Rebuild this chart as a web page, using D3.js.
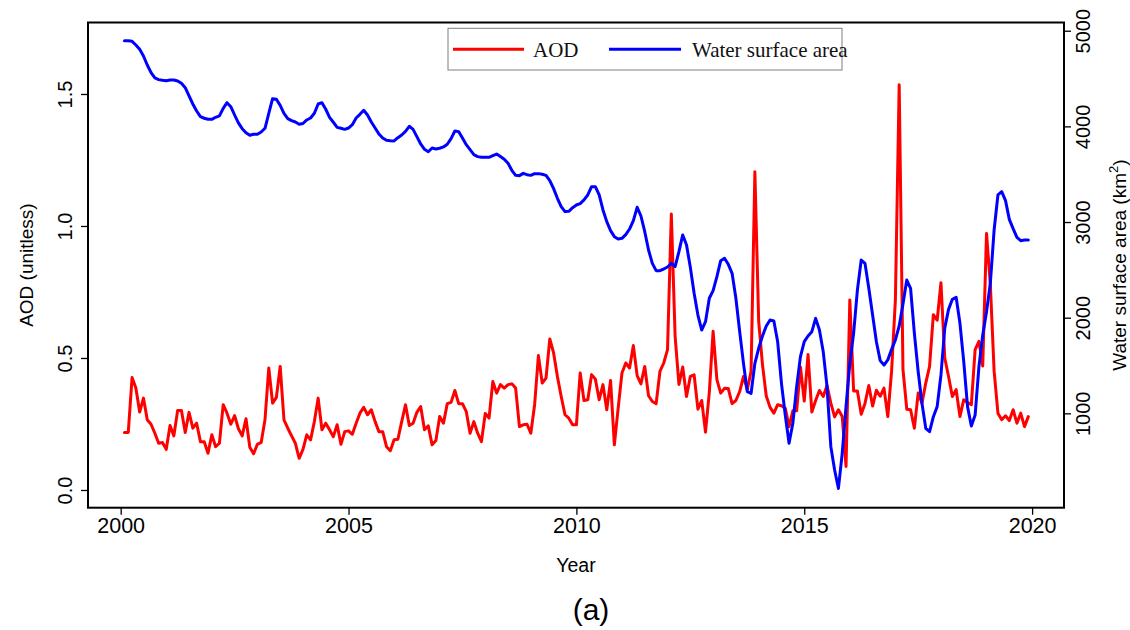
<!DOCTYPE html>
<html>
<head>
<meta charset="utf-8">
<script src="https://cdn.jsdelivr.net/npm/d3@7/dist/d3.min.js"></script>
<style>
  html, body { margin: 0; padding: 0; background: #fff; }
  svg { display: block; }
</style>
</head>
<body>
<svg id="chart" width="1130" height="630"></svg>
<script>
// Monthly series, Feb 2000 to Dec 2019
const startYear = 2000;
const aod = [
  0.218,0.218,0.426,0.386,0.295,0.348,0.266,0.249,0.215,0.177,0.180,0.154,
  0.244,0.205,0.301,0.301,0.218,0.294,0.234,0.253,0.183,0.183,0.139,0.209,
  0.164,0.177,0.323,0.291,0.249,0.282,0.232,0.205,0.270,0.162,0.137,0.173,
  0.180,0.266,0.462,0.329,0.351,0.468,0.266,0.234,0.205,0.177,0.120,0.154,
  0.209,0.190,0.259,0.348,0.228,0.253,0.228,0.202,0.247,0.173,0.221,0.224,
  0.211,0.253,0.291,0.313,0.285,0.304,0.259,0.221,0.221,0.164,0.149,0.190,
  0.192,0.259,0.323,0.244,0.253,0.294,0.316,0.228,0.243,0.171,0.187,0.278,
  0.253,0.327,0.332,0.377,0.327,0.327,0.297,0.215,0.259,0.215,0.183,0.290,
  0.272,0.411,0.367,0.399,0.386,0.399,0.402,0.386,0.240,0.247,0.249,0.215,
  0.323,0.509,0.405,0.424,0.572,0.519,0.430,0.354,0.285,0.272,0.247,0.247,
  0.443,0.339,0.342,0.437,0.420,0.342,0.399,0.304,0.415,0.171,0.310,0.443,
  0.481,0.462,0.547,0.433,0.402,0.468,0.357,0.335,0.327,0.449,0.481,0.532,
  1.045,0.582,0.400,0.466,0.354,0.430,0.436,0.306,0.339,0.219,0.370,0.601,
  0.418,0.367,0.385,0.384,0.327,0.339,0.373,0.430,0.380,0.450,1.205,0.640,
  0.475,0.356,0.313,0.291,0.323,0.319,0.310,0.240,0.300,0.300,0.466,0.337,
  0.513,0.295,0.339,0.377,0.354,0.396,0.329,0.277,0.304,0.278,0.089,0.720,
  0.375,0.375,0.287,0.328,0.396,0.318,0.378,0.355,0.386,0.278,0.450,0.720,
  1.535,0.456,0.306,0.304,0.234,0.367,0.329,0.405,0.468,0.664,0.643,0.785,
  0.500,0.430,0.354,0.380,0.278,0.342,0.331,0.323,0.532,0.563,0.470,0.972,
  0.780,0.450,0.291,0.266,0.281,0.263,0.304,0.253,0.291,0.240,0.278
];
const area = [
  4896,4896,4889,4851,4806,4736,4642,4562,4506,4489,4482,4478,
  4485,4485,4475,4450,4405,4318,4234,4161,4102,4085,4074,4074,
  4095,4109,4189,4248,4206,4119,4036,3976,3934,3907,3917,3917,
  3941,3980,4137,4290,4283,4220,4137,4081,4060,4046,4022,4030,
  4067,4088,4137,4234,4248,4179,4095,4043,3990,3980,3969,3983,
  4018,4088,4126,4168,4119,4046,3983,3921,3879,3855,3851,3848,
  3882,3910,3948,4001,3969,3893,3816,3760,3735,3774,3764,3771,
  3785,3813,3872,3952,3945,3879,3809,3757,3705,3684,3677,3677,
  3677,3694,3711,3684,3656,3614,3541,3488,3485,3509,3495,3488,
  3506,3506,3499,3488,3433,3349,3248,3161,3109,3112,3150,3178,
  3192,3231,3283,3370,3370,3283,3126,3004,2910,2847,2823,2830,
  2868,2927,3014,3154,3063,2899,2708,2568,2492,2492,2509,2530,
  2568,2534,2690,2865,2760,2527,2255,2028,1871,1958,2203,2283,
  2429,2596,2621,2558,2464,2203,1854,1523,1227,1209,1523,1680,
  1809,1913,1976,1966,1749,1314,983,687,896,1279,1593,1749,
  1809,1854,1993,1871,1645,1279,652,408,215,582,1070,1523,
  1837,2290,2603,2568,2307,2028,1749,1551,1505,1558,1669,1767,
  1913,2143,2394,2307,1837,1436,1105,843,808,965,1070,1401,
  1889,2087,2192,2213,1941,1540,1070,868,983,1488,1819,2063,
  2359,2917,3283,3318,3224,3028,2931,2840,2805,2812,2812
];
const yearTicks = [2000, 2005, 2010, 2015, 2020];
const aodTicks = [0.0, 0.5, 1.0, 1.5];
const areaTicks = [1000, 2000, 3000, 4000, 5000];
const seriesNames = ["AOD", "Water surface area"];
const seriesColors = ["#ff0000", "#0000ff"];

const months = aod.map((_, i) => startYear + (i + 1) / 12);

const svg = d3.select("#chart");
const box = { left: 88, right: 1064, top: 22.5, bottom: 507.7 };

const x = d3.scaleLinear().domain([1999.283, 2020.70]).range([box.left, box.right]);
const yL = d3.scaleLinear().domain([-0.0671, 1.7708]).range([box.bottom, box.top]);
const yR = d3.scaleLinear().domain([13.6, 5086]).range([box.bottom, box.top]);

const tickFont = "'Liberation Sans', Arial, sans-serif";
const titleFont = "'Liberation Sans', Arial, sans-serif";

// series
const lineA = d3.line().x((d, i) => x(months[i])).y(d => yL(d));
const lineW = d3.line().x((d, i) => x(months[i])).y(d => yR(d));

svg.append("path").datum(aod).attr("d", lineA)
  .attr("fill", "none").attr("stroke", seriesColors[0]).attr("stroke-width", 3)
  .attr("stroke-linejoin", "round").attr("stroke-linecap", "round");
svg.append("path").datum(area).attr("d", lineW)
  .attr("fill", "none").attr("stroke", seriesColors[1]).attr("stroke-width", 3)
  .attr("stroke-linejoin", "round").attr("stroke-linecap", "round");

// frame
svg.append("rect")
  .attr("x", box.left).attr("y", box.top)
  .attr("width", box.right - box.left).attr("height", box.bottom - box.top)
  .attr("fill", "none").attr("stroke", "#000").attr("stroke-width", 2);

// axes
const gx = svg.append("g").attr("transform", `translate(0,${box.bottom})`)
  .call(d3.axisBottom(x).tickValues(yearTicks).tickFormat(d3.format("d")).tickSize(7).tickSizeOuter(0));
gx.select(".domain").remove();
gx.selectAll(".tick line").attr("stroke", "#000").attr("stroke-width", 1.3);
gx.selectAll(".tick text").attr("y", 25).attr("dy", null)
  .attr("font-family", tickFont).attr("font-size", 21.5).attr("fill", "#000");

const gl = svg.append("g").attr("transform", `translate(${box.left},0)`)
  .call(d3.axisLeft(yL).tickValues(aodTicks).tickFormat(d3.format(".1f")).tickSize(7).tickSizeOuter(0));
gl.select(".domain").remove();
gl.selectAll(".tick line").attr("stroke", "#000").attr("stroke-width", 1.3);
gl.selectAll(".tick text")
  .attr("transform", "rotate(-90)").attr("x", 0).attr("y", -16.3).attr("dy", null)
  .attr("text-anchor", "middle")
  .attr("font-family", tickFont).attr("font-size", 20).attr("fill", "#000");

const gr = svg.append("g").attr("transform", `translate(${box.right},0)`)
  .call(d3.axisRight(yR).tickValues(areaTicks).tickFormat(d3.format("d")).tickSize(7).tickSizeOuter(0));
gr.select(".domain").remove();
gr.selectAll(".tick line").attr("stroke", "#000").attr("stroke-width", 1.3);
gr.selectAll(".tick text")
  .attr("transform", "rotate(-90)").attr("x", 0).attr("y", 26).attr("dy", null)
  .attr("text-anchor", "middle")
  .attr("font-family", tickFont).attr("font-size", 20).attr("fill", "#000");

// axis titles
const midY = (box.top + box.bottom) / 2;
svg.append("text").attr("x", (box.left + box.right) / 2).attr("y", 572)
  .attr("text-anchor", "middle").attr("font-family", titleFont).attr("font-size", 19.5)
  .text("Year");
svg.append("text").attr("transform", `translate(33,${midY}) rotate(-90)`)
  .attr("text-anchor", "middle").attr("font-family", titleFont).attr("font-size", 19)
  .text("AOD (unitless)");
const rt = svg.append("text").attr("transform", `translate(1126,${midY}) rotate(-90)`)
  .attr("text-anchor", "middle").attr("font-family", titleFont).attr("font-size", 19);
rt.append("tspan").text("Water surface area (km");
rt.append("tspan").attr("font-size", 13).attr("dy", -8).text("2");
rt.append("tspan").attr("dy", 8).text(")");

// legend
const lg = svg.append("g");
lg.append("rect").attr("x", 448).attr("y", 28.3).attr("width", 394).attr("height", 41.7)
  .attr("fill", "#fff").attr("stroke", "#7f7f7f").attr("stroke-width", 1);
const legendItems = [
  { x1: 453, x2: 524, tx: 533 },
  { x1: 609, x2: 681, tx: 692 }
];
legendItems.forEach((it, k) => {
  lg.append("line").attr("x1", it.x1).attr("x2", it.x2).attr("y1", 49.3).attr("y2", 49.3)
    .attr("stroke", seriesColors[k]).attr("stroke-width", 3);
  lg.append("text").attr("x", it.tx).attr("y", 56.5)
    .attr("font-family", "'Liberation Serif', 'Times New Roman', serif").attr("font-size", 21)
    .attr("fill", "#111").text(seriesNames[k]);
});

// panel caption
svg.append("text").attr("x", 591).attr("y", 620)
  .attr("text-anchor", "middle").attr("font-family", titleFont).attr("font-size", 30)
  .text("(a)");
</script>
</body>
</html>
